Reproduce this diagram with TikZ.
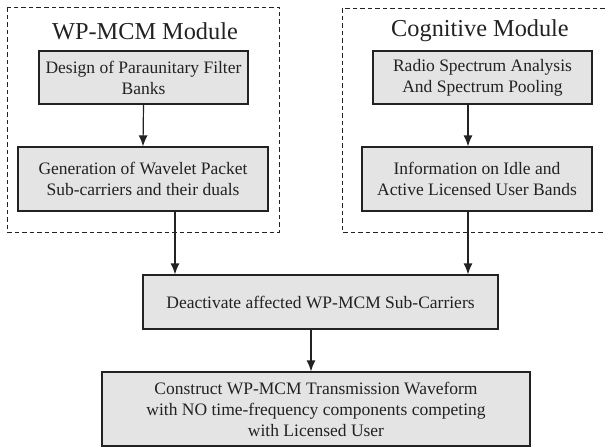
\documentclass[tikz,border=0pt]{standalone}
\usepackage{fontspec}
\setmainfont{Liberation Serif}
\usetikzlibrary{arrows.meta}
\definecolor{boxfill}{HTML}{E4E4E4}
\definecolor{ink}{HTML}{222222}
\tikzset{
  box/.style={draw=ink, line width=1.2pt, fill=boxfill, align=center, inner sep=0pt,
    text=ink, font=\fontsize{17.5}{21}\selectfont},
  modtitle/.style={text=ink, font=\fontsize{24.3}{28}\selectfont, inner sep=0pt},
  module/.style={draw=ink, line width=0.9pt, dash pattern=on 4.5pt off 3pt},
  arr/.style={draw=ink, line width=1.2pt, -{Latex[length=11pt,width=9pt]}}
}
\begin{document}
\begin{tikzpicture}[x=1pt,y=-1pt]
\useasboundingbox (0,0) rectangle (605,447);
% module frames
\draw[module] (7,7) rectangle (279,232);
\draw[module] (612,8) -- (342,8) -- (342,232) -- (612,232);
\node[modtitle] (t1) at (145,31) {WP-MCM Module};
\node[modtitle] (t2) at (480,31) {Cognitive Module};
% boxes
\node[box, minimum width=209pt, minimum height=53pt] (b1) at (143.5,77.5) {Design of Paraunitary Filter\\Banks};
\node[box, minimum width=250pt, minimum height=64pt] (b2) at (143,179) {Generation of Wavelet Packet\\Sub-carriers and their duals};
\node[box, minimum width=219pt, minimum height=53pt] (b3) at (482.5,77.5) {Radio Spectrum Analysis\\And Spectrum Pooling};
\node[box, minimum width=230pt, minimum height=64pt] (b4) at (477,179) {Information on Idle and\\Active Licensed User Bands};
\node[box, minimum width=355pt, minimum height=54pt] (b5) at (320.5,302) {Deactivate affected WP-MCM Sub-Carriers};
\node[box, minimum width=428pt, minimum height=74pt] (b6) at (316,409) {Construct WP-MCM Transmission Waveform\\with NO time-frequency components competing\\with Licensed User};
% connectors
\draw[arr] (b1.south) -- (b2.north);
\draw[arr] ([xshift=-14.5pt]b3.south) -- ([xshift=-14.5pt]b3.south |- b4.north);
\draw[arr] ([xshift=32pt]b2.south) -- ([xshift=32pt]b2.south |- b5.north);
\draw[arr] ([xshift=-9pt]b4.south) -- ([xshift=-9pt]b4.south |- b5.north);
\draw[arr] ([xshift=-9.5pt]b5.south) -- ([xshift=-9.5pt]b5.south |- b6.north);
\end{tikzpicture}
\end{document}
